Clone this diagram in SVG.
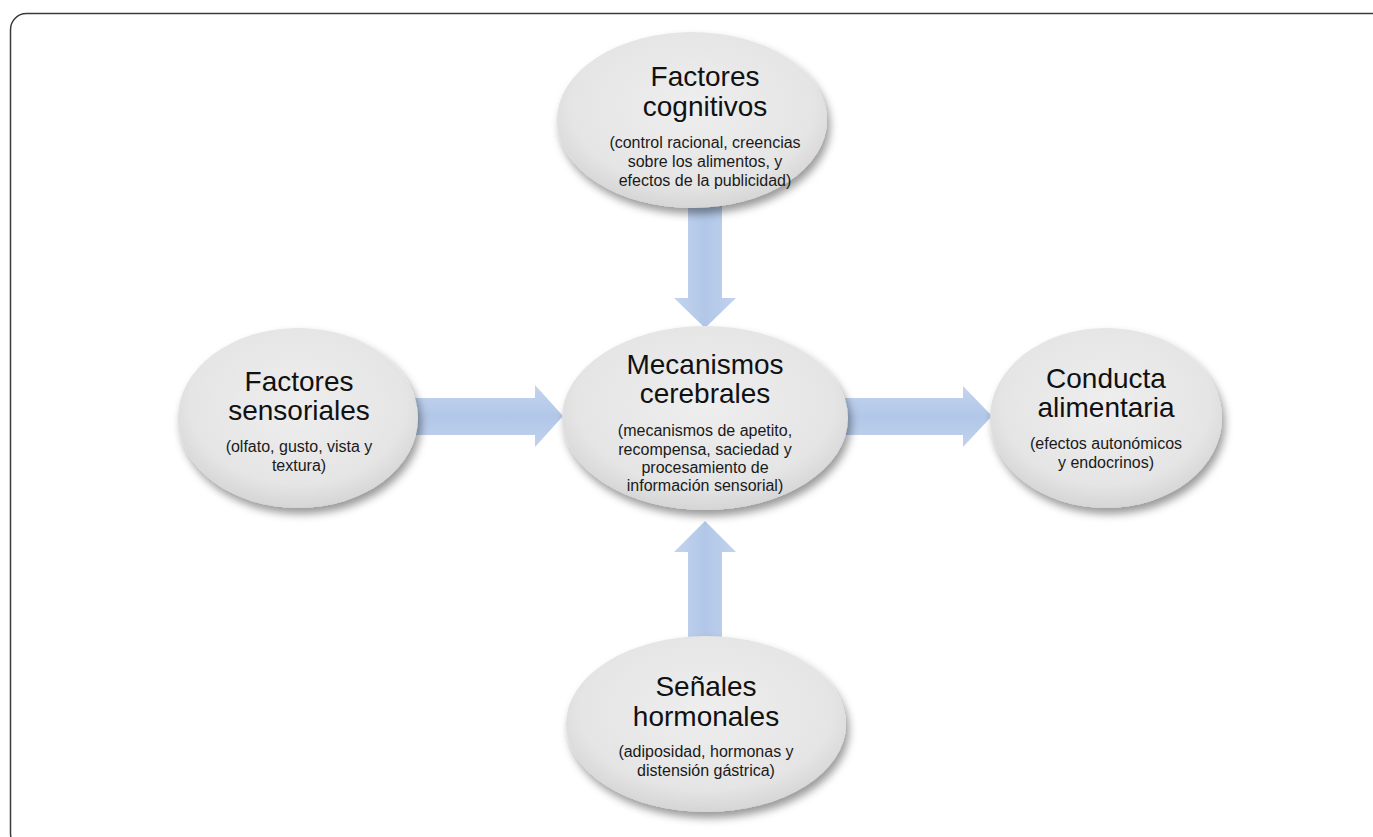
<svg xmlns="http://www.w3.org/2000/svg" width="1373" height="837" viewBox="0 0 1373 837">
<defs>
<radialGradient id="ellG" cx="50%" cy="42%" r="60%">
<stop offset="0" stop-color="#eeeeee"/>
<stop offset="0.75" stop-color="#e5e5e5"/>
<stop offset="1" stop-color="#d3d3d3"/>
</radialGradient>
<linearGradient id="arrH" x1="0" y1="0" x2="0" y2="1">
<stop offset="0" stop-color="#c3d4ee"/>
<stop offset="0.5" stop-color="#b2c7e8"/>
<stop offset="1" stop-color="#c0d2ed"/>
</linearGradient>
<linearGradient id="arrV" x1="0" y1="0" x2="1" y2="0">
<stop offset="0" stop-color="#c3d4ee"/>
<stop offset="0.5" stop-color="#b2c7e8"/>
<stop offset="1" stop-color="#c0d2ed"/>
</linearGradient>
<filter id="sh" x="-20%" y="-20%" width="140%" height="150%">
<feDropShadow dx="3" dy="6" stdDeviation="4" flood-color="#000" flood-opacity="0.4"/>
</filter>
</defs>
<style>
.node ellipse{fill:url(#ellG);filter:url(#sh);}
.t{font-family:"Liberation Sans",Arial,sans-serif;font-size:28px;fill:#111;text-anchor:middle;}
.s{font-family:"Liberation Sans",Arial,sans-serif;font-size:16px;fill:#1a1a1a;text-anchor:middle;}
</style>
<rect x="10.5" y="13.5" width="1400" height="836" rx="16" ry="16" fill="#fff" stroke="#3a3a3a" stroke-width="1.5"/>
<g id="connectors">
<polygon fill="url(#arrV)" points="688,205 722,205 722,298 736,298 705,328 674,298 688,298"/>
<polygon fill="url(#arrH)" points="415,398 535,398 535,385 563,416 535,447 535,435 415,435"/>
<polygon fill="url(#arrH)" points="845,398 963,398 963,386 992,416 963,447 963,435 845,435"/>
<polygon fill="url(#arrV)" points="688,640 722,640 722,552 736,552 705,521 674,552 688,552"/>
</g>
<g id="cognitivos" class="node">
<ellipse cx="692" cy="120" rx="135" ry="88"/>
<text class="t" x="705" y="86">Factores</text>
<text class="t" x="705" y="116">cognitivos</text>
<text class="s" x="705" y="148">(control racional, creencias</text>
<text class="s" x="705" y="167">sobre los alimentos, y</text>
<text class="s" x="705" y="186">efectos de la publicidad)</text>
</g>
<g id="sensoriales" class="node">
<ellipse cx="298" cy="418" rx="120" ry="90"/>
<text class="t" x="299" y="391">Factores</text>
<text class="t" x="299" y="420">sensoriales</text>
<text class="s" x="299" y="452">(olfato, gusto, vista y</text>
<text class="s" x="299" y="471">textura)</text>
</g>
<g id="cerebrales" class="node">
<ellipse cx="705" cy="418" rx="143" ry="92"/>
<text class="t" x="705" y="374">Mecanismos</text>
<text class="t" x="705" y="403">cerebrales</text>
<text class="s" x="705" y="436">(mecanismos de apetito,</text>
<text class="s" x="705" y="455">recompensa, saciedad y</text>
<text class="s" x="705" y="473">procesamiento de</text>
<text class="s" x="705" y="491">información sensorial)</text>
</g>
<g id="conducta" class="node">
<ellipse cx="1106" cy="418" rx="116" ry="90"/>
<text class="t" x="1106" y="388">Conducta</text>
<text class="t" x="1106" y="417">alimentaria</text>
<text class="s" x="1106" y="449">(efectos autonómicos</text>
<text class="s" x="1106" y="468">y endocrinos)</text>
</g>
<g id="hormonales" class="node">
<ellipse cx="706" cy="724" rx="140" ry="88"/>
<text class="t" x="706" y="696">Señales</text>
<text class="t" x="706" y="726">hormonales</text>
<text class="s" x="706" y="757">(adiposidad, hormonas y</text>
<text class="s" x="706" y="776">distensión gástrica)</text>
</g>
</svg>
